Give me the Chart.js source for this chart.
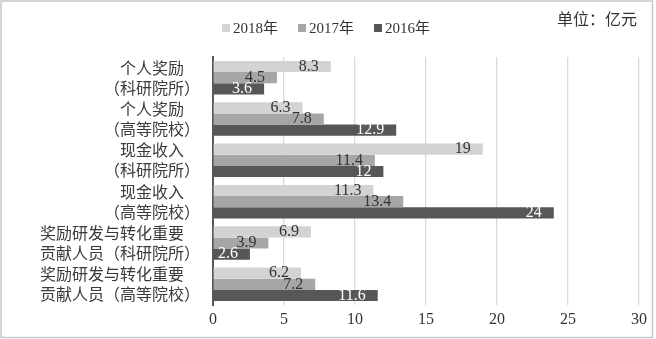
<!DOCTYPE html>
<html>
<head>
<meta charset="utf-8">
<script src="https://cdn.jsdelivr.net/npm/chart.js@4.4.0/dist/chart.umd.min.js"></script>
<style>
  html, body { margin: 0; padding: 0; background: #fff; }
  #wrap { width: 656px; height: 339px; }
</style>
</head>
<body>
<div id="wrap"><canvas id="grafico"></canvas></div>
<script>
// categorias (com espaço ideográfico no fim da 1ª linha para alinhar como no original)
const categorias = [
  ['个人奖励　', '（科研院所）'],
  ['个人奖励　', '（高等院校）'],
  ['现金收入　', '（科研院所）'],
  ['现金收入　', '（高等院校）'],
  ['奖励研发与转化重要　', '贡献人员（科研院所）'],
  ['奖励研发与转化重要　', '贡献人员（高等院校）']
]
const anos = ['2018年', '2017年', '2016年']
const valores2018 = [8.3, 6.3, 19, 11.3, 6.9, 6.2]
const valores2017 = [4.5, 7.8, 11.4, 13.4, 3.9, 7.2]
const valores2016 = [3.6, 12.9, 12, 24, 2.6, 11.6]
const ticksX = [0, 5, 10, 15, 20, 25, 30]
const unidade = '单位：亿元'

const cores = ['#d3d3d3', '#a6a6a6', '#575757']
const corRotulo = ['#333333', '#333333', '#ffffff']
const fonteSerif = "'Liberation Serif', 'Noto Sans CJK SC', serif"
const fonteCJK = "'Noto Sans CJK SC', sans-serif"

// fundo e moldura
const fundo = {
  id: 'fundo',
  beforeDraw(chart) {
    const ctx = chart.ctx
    ctx.save()
    ctx.fillStyle = '#fff'
    ctx.fillRect(0, 0, chart.width, chart.height)
    ctx.strokeStyle = '#c8c8c8'
    ctx.lineWidth = 1.5
    ctx.strokeRect(1, 1, 651.5, 336.5)
    ctx.restore()
  }
}

// legenda e unidade
const legenda = {
  id: 'legenda',
  afterDraw(chart) {
    const ctx = chart.ctx
    ctx.save()
    ctx.font = '15px ' + fonteSerif
    ctx.textBaseline = 'middle'
    const caixa = 8, gap = 3, espaco = 20
    let total = 0
    chart.data.datasets.forEach((ds, i) => {
      total += caixa + gap + ctx.measureText(ds.label).width
      if (i < chart.data.datasets.length - 1) total += espaco
    })
    let x = 326 - total / 2
    const y = 28
    chart.data.datasets.forEach(ds => {
      ctx.fillStyle = ds.backgroundColor
      ctx.fillRect(x, y - caixa / 2, caixa, caixa)
      x += caixa + gap
      ctx.fillStyle = '#333'
      ctx.textAlign = 'left'
      ctx.fillText(ds.label, x, y + 1)
      x += ctx.measureText(ds.label).width + espaco
    })
    ctx.font = '16px ' + fonteCJK
    ctx.textAlign = 'right'
    ctx.fillStyle = '#333'
    ctx.fillText(unidade, 637, 19)
    ctx.restore()
  }
}

// rótulos de valor dentro do fim das barras
const rotulos = {
  id: 'rotulos',
  afterDatasetsDraw(chart) {
    const ctx = chart.ctx
    ctx.save()
    ctx.font = '16px ' + fonteSerif
    ctx.textAlign = 'right'
    ctx.textBaseline = 'middle'
    chart.data.datasets.forEach((ds, i) => {
      const meta = chart.getDatasetMeta(i)
      meta.data.forEach((barra, j) => {
        ctx.fillStyle = corRotulo[i]
        ctx.fillText(String(ds.data[j]), barra.x - 12, barra.y)
      })
    })
    ctx.restore()
  }
}

const grafico = new Chart(document.querySelector('#grafico'), {
  type: 'bar',
  data: {
    labels: categorias,
    datasets: [
      { label: anos[0], data: valores2018, backgroundColor: cores[0] },
      { label: anos[1], data: valores2017, backgroundColor: cores[1] },
      { label: anos[2], data: valores2016, backgroundColor: cores[2] }
    ]
  },
  options: {
    indexAxis: 'y',
    responsive: true,
    maintainAspectRatio: false,
    animation: false,
    layout: { padding: { top: 57, right: 17, left: 4, bottom: 0 } },
    datasets: { bar: { categoryPercentage: 0.81, barPercentage: 1 } },
    plugins: { legend: { display: false }, tooltip: { enabled: false } },
    scales: {
      x: {
        min: 0,
        max: 30,
        afterBuildTicks(scale) { scale.ticks = ticksX.map(v => ({ value: v })) },
        afterFit(scale) { scale.height = 339 - 305 },
        grid: { color: '#dadada', lineWidth: 1.3, drawTicks: false },
        border: { display: false },
        ticks: { color: '#333', padding: 5, font: { family: fonteSerif, size: 16 } }
      },
      y: {
        afterFit(scale) { scale.width = 213 - 4 },
        grid: { display: false, drawTicks: false },
        border: { display: true, color: '#595959', width: 2 },
        ticks: {
          autoSkip: false,
          color: '#3a3a3a',
          padding: 13,
          crossAlign: 'near',
          font: { family: fonteCJK, size: 16, lineHeight: 1.25 }
        }
      }
    }
  },
  plugins: [fundo, legenda, rotulos]
})
</script>
</body>
</html>
